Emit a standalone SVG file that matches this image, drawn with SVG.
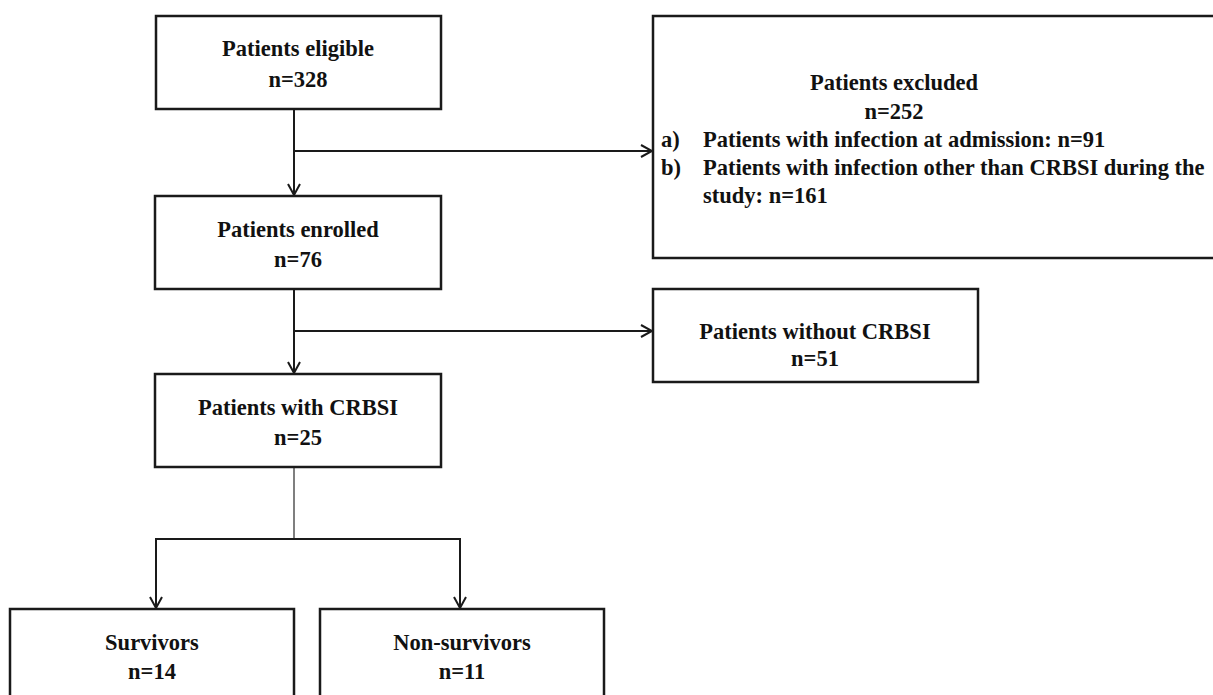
<svg xmlns="http://www.w3.org/2000/svg" width="1213" height="695" viewBox="0 0 1213 695">
<defs>
<marker id="arr" markerWidth="14" markerHeight="14" refX="12" refY="7" orient="auto" markerUnits="userSpaceOnUse">
<path d="M1,1 L12,7 L1,13" fill="none" stroke="#1a1a1a" stroke-width="2"/>
</marker>
<style>
.box{fill:#fff;stroke:#1a1a1a;stroke-width:2.5}
.t{font-family:"Liberation Serif","Times New Roman",serif;font-weight:bold;font-size:22.5px;fill:#111}
.c{text-anchor:middle}
.ln{fill:none;stroke:#1a1a1a;stroke-width:2}
.thin{fill:none;stroke:#555;stroke-width:1.5}
</style>
</defs>
<rect width="1213" height="695" fill="#fff"/>
<g id="connectors">
<line class="ln" x1="294" y1="109" x2="294" y2="195" marker-end="url(#arr)"/>
<line class="ln" x1="294" y1="151" x2="652" y2="151" marker-end="url(#arr)"/>
<line class="ln" x1="294" y1="289" x2="294" y2="373" marker-end="url(#arr)"/>
<line class="ln" x1="294" y1="331" x2="652" y2="331" marker-end="url(#arr)"/>
<line class="thin" x1="294" y1="467" x2="294" y2="539"/>
<line class="ln" x1="156" y1="539" x2="460" y2="539"/>
<line class="ln" x1="156" y1="538" x2="156" y2="608" marker-end="url(#arr)"/>
<line class="ln" x1="460" y1="538" x2="460" y2="608" marker-end="url(#arr)"/>
</g>
<g id="n1"><rect class="box" x="156" y="16" width="285" height="93"/>
<text class="t c" x="298" y="56">Patients eligible</text><text class="t c" x="298" y="87">n=328</text></g>
<g id="n2"><rect class="box" x="653" y="16" width="580" height="242"/>
<text class="t c" x="894" y="90">Patients excluded</text><text class="t c" x="894" y="119">n=252</text>
<text class="t" x="661" y="147">a)</text><text class="t" x="703" y="147">Patients with infection at admission: n=91</text>
<text class="t" x="661" y="175">b)</text><text class="t" x="703" y="175">Patients with infection other than CRBSI during the</text>
<text class="t" x="703" y="203">study: n=161</text></g>
<g id="n3"><rect class="box" x="155" y="196" width="286" height="93"/>
<text class="t c" x="298" y="237">Patients enrolled</text><text class="t c" x="298" y="267">n=76</text></g>
<g id="n4"><rect class="box" x="653" y="289" width="325" height="93"/>
<text class="t c" x="815" y="339">Patients without CRBSI</text><text class="t c" x="815" y="366">n=51</text></g>
<g id="n5"><rect class="box" x="155" y="374" width="286" height="93"/>
<text class="t c" x="298" y="415">Patients with CRBSI</text><text class="t c" x="298" y="445">n=25</text></g>
<g id="n6"><rect class="box" x="10" y="609" width="284" height="100"/>
<text class="t c" x="152" y="650">Survivors</text><text class="t c" x="152" y="679">n=14</text></g>
<g id="n7"><rect class="box" x="320" y="609" width="284" height="100"/>
<text class="t c" x="462" y="650">Non-survivors</text><text class="t c" x="462" y="679">n=11</text></g>
</svg>
